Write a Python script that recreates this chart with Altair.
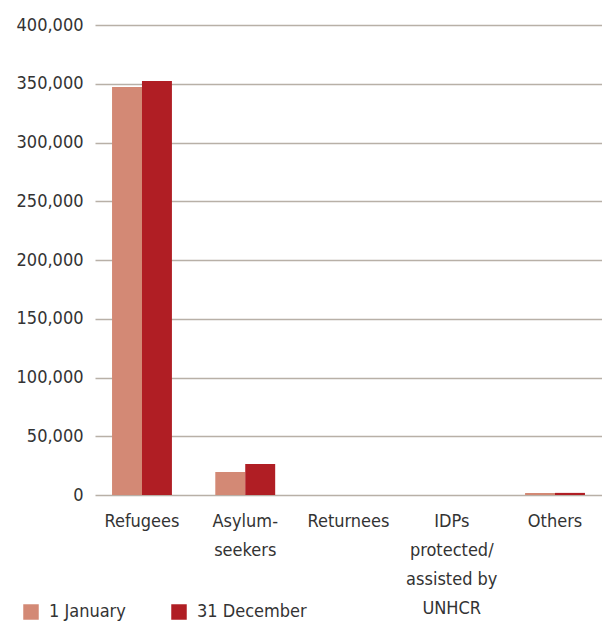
import altair as alt
import pandas as pd

categories = ["Refugees", "Asylum-|seekers", "Returnees", "IDPs|protected/|assisted by|UNHCR", "Others"]
series = ["1 January", "31 December"]
jan_values = [347200, 19600, 0, 0, 1700]
dec_values = [352300, 26400, 0, 0, 1800]
colors = ["#d38975", "#b01e24"]

rows = []
for c, v in zip(categories, jan_values):
    rows.append({"category": c, "series": series[0], "value": v})
for c, v in zip(categories, dec_values):
    rows.append({"category": c, "series": series[1], "value": v})
df = pd.DataFrame(rows)

FONT = "DejaVu Sans Condensed"
TXT = "#333333"
FS = 18

chart = alt.Chart(df).mark_bar().encode(
    x=alt.X("category:N", sort=categories, title=None,
            scale=alt.Scale(paddingInner=0.42, paddingOuter=0.165),
            axis=alt.Axis(labelExpr="split(datum.label, '|')", labelAngle=0,
                          ticks=False, domain=False, grid=False,
                          labelFont=FONT, labelFontSize=FS, labelColor=TXT,
                          labelLineHeight=29, labelPadding=17, labelBaseline="top")),
    xOffset=alt.XOffset("series:N", sort=series),
    y=alt.Y("value:Q", title=None,
            scale=alt.Scale(domain=[0, 400000]),
            axis=alt.Axis(values=list(range(0, 400001, 50000)),
                          labelExpr="format(datum.value, ',.0f')",
                          ticks=False, domain=False, grid=True,
                          gridColor="#b8b0a7", gridWidth=1.5,
                          labelFont=FONT, labelFontSize=FS, labelColor=TXT,
                          labelPadding=12)),
    color=alt.Color("series:N", sort=series,
                    scale=alt.Scale(domain=series, range=colors),
                    legend=alt.Legend(title=None, orient="none", legendX=-73, legendY=578,
                                      direction="horizontal", symbolType="square",
                                      symbolSize=240, symbolStrokeWidth=0,
                                      symbolOpacity=1,
                                      labelFont=FONT, labelFontSize=FS, labelColor=TXT,
                                      labelOffset=9, columnPadding=44)),
).properties(
    width=507, height=470,
    autosize=alt.AutoSizeParams(type="none"),
    padding={"left": 95, "top": 25, "right": 0, "bottom": 126},
).configure_view(stroke=None)

chart.save("out.html", embed_options={"renderer": "svg", "actions": False})
